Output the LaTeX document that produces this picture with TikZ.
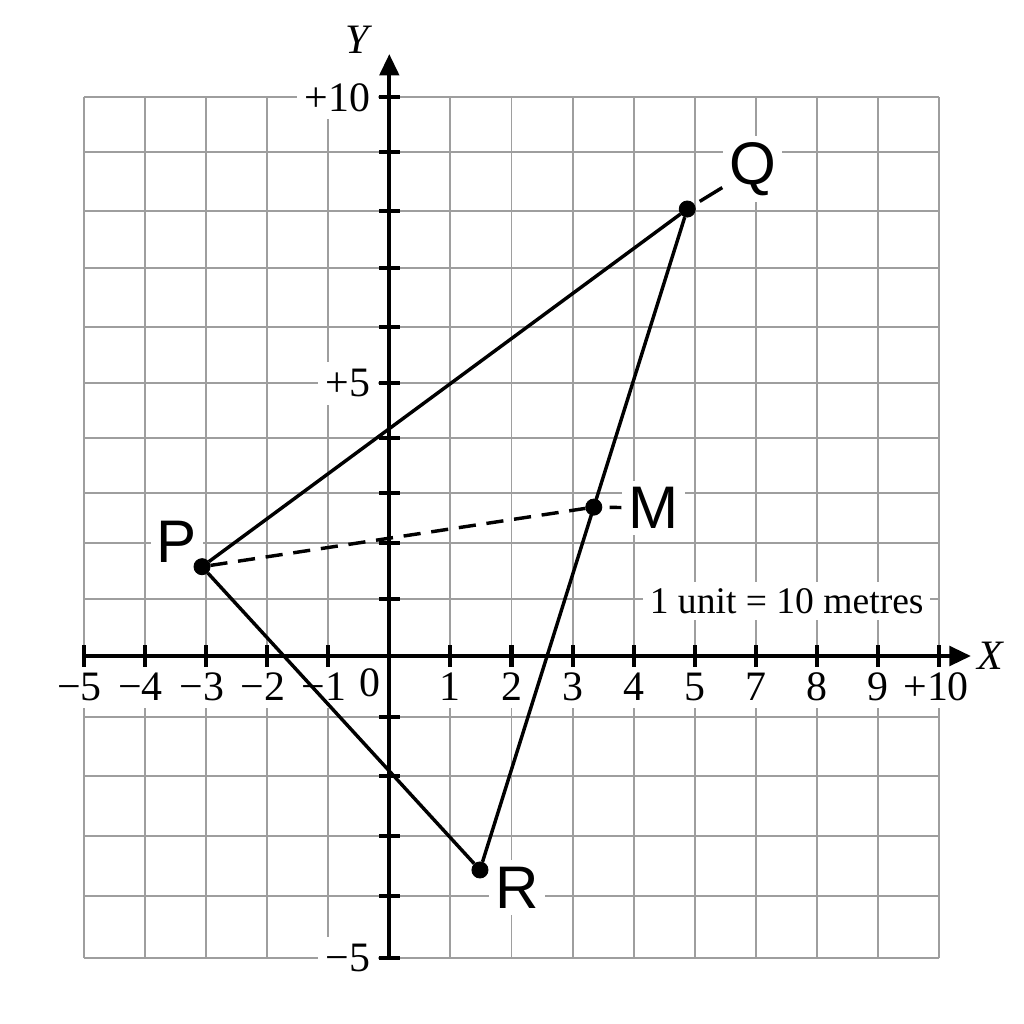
\documentclass[tikz,border=0pt]{standalone}
\usepackage{fontspec}
\setmainfont{Liberation Serif}
\setsansfont{Liberation Sans}
\usetikzlibrary{arrows.meta}
\usetikzlibrary{calc}
\tikzset{>={Triangle[length=10pt,width=9pt]}}
\tikzset{
	% grid style
	gridline/.style={black!38,line width=0.9pt},
	% axis and tick style
	axisline/.style={line width=1.9pt},
	% triangle style
	sideline/.style={line width=1.6pt},
	% points and labels
	vertex/.style={fill=black,draw=black,circle,inner sep=0pt,minimum size=7.5pt},
	ptlabel/.style={font=\fontsize{28}{33}\sffamily,fill=white,inner sep=3pt},
	numlabel/.style={font=\fontsize{19.5}{23}\selectfont,fill=white,inner sep=3.5pt},
}

\begin{document}
\begin{tikzpicture}
\useasboundingbox (-6.372,-6.023) rectangle (10.388,10.737);
% the grid
\foreach \x in {-5,...,9}
  \draw[gridline] (\x,-4.943) -- (\x,9.144);
\foreach \y in {-4.943,-3.928,-2.946,-1.964,-0.998,0,0.933,1.854,2.673,3.573,4.463,5.390,6.345,7.283,8.249,9.144}
  \draw[gridline] (-5,\y) -- (9,\y);
% the tick labels
\foreach \x/\t/\s [count=\i] in {-5/−5/-0.07,-4/−4/-0.07,-3/−3/-0.07,-2/−2/-0.07,-1/−1/-0.07,1/1/0,2/2/0,3/3/0,4/4/0,5/5/0,6/7/0,7/8/0,8/9/0,9/+10/-0.05}
  \node[numlabel] (xl\i) at (\x+\s,-0.5) {\t};
\node[numlabel] (xl0) at (-0.316,-0.43) {0};
\node[numlabel,anchor=east] (yltop) at (-0.18,9.144) {+10};
\node[numlabel,anchor=east] (ylmid) at (-0.18,4.463) {+5};
\node[numlabel,anchor=east] (ylbot) at (-0.18,-4.943) {−5};
\node[numlabel,font=\fontsize{17.5}{21}\selectfont,inner sep=3pt] (scale) at (6.504,0.90) {1 unit = 10 metres};
% the point labels
\node[ptlabel] (Plab) at (-3.475,1.861) {P};
\node[ptlabel] (Qlab) at (5.945,7.97) {Q};
\node[ptlabel] (Mlab) at (4.321,2.422) {M};
\node[ptlabel] (Rlab) at (2.090,-3.789) {R};
% the axes
\draw[axisline,->] (-5,0) -- (9.52,0);
\draw[axisline,->] (0,-4.943) -- (0,9.853);
\node[font=\fontsize{19.5}{23}\selectfont\itshape] (xname) at (9.83,0) {X};
\node[font=\fontsize{19.5}{23}\selectfont\itshape] (yname) at (-0.529,10.08) {Y};
% the ticks
\foreach \x in {-5,...,9}
  \draw[axisline] (\x,0.18) -- (\x,-0.18);
\foreach \y in {-4.943,-3.928,-2.946,-1.964,-0.998,0.933,1.854,2.673,3.573,4.463,5.390,6.345,7.283,8.249,9.144}
  \draw[axisline] (-0.17,\y) -- (0.17,\y);
% the triangle
\node[vertex] (P) at (-3.065,1.462) {};
\node[vertex] (Q) at (4.877,7.316) {};
\node[vertex] (R) at (1.484,-3.502) {};
\node[vertex] (M) at ($(Q)!0.451!(R)$) {};
\draw[sideline] (P) -- (Q) -- (R) -- (P);
\draw[sideline,dash pattern=on 8pt off 5pt] (P) -- (M);
\draw[sideline,shorten <=0.1cm] (Q) -- (Qlab);
\draw[sideline,shorten <=0.12cm] (M) -- (Mlab);
\end{tikzpicture}
\end{document}
